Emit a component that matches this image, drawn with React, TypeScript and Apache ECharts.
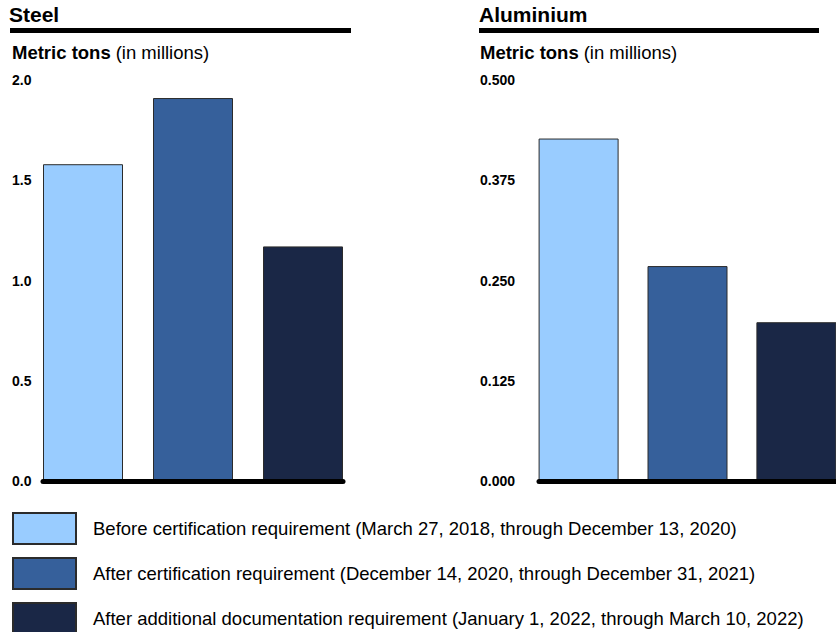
import React, { useEffect, useRef } from "react";
import * as echarts from "echarts";

const periods = [
  "Before certification requirement (March 27, 2018, through December 13, 2020)",
  "After certification requirement (December 14, 2020, through December 31, 2021)",
  "After additional documentation requirement (January 1, 2022, through March 10, 2022)",
];
const colors = ["#99ccff", "#36609b", "#1a2746"];
const steelValues = [1.58, 1.91, 1.17];
const aluminiumValues = [0.427, 0.268, 0.198];
const steelTicks = [0, 0.5, 1.0, 1.5, 2.0];
const aluminiumTicks = [0, 0.125, 0.25, 0.375, 0.5];

const FONT = "'Liberation Sans', Arial, sans-serif";

export default function App() {
  const ref = useRef<HTMLDivElement>(null);
  useEffect(() => {
    if (!ref.current) return;
    const chart = echarts.init(ref.current, null, { renderer: "svg" });
    const half = 40 / 110;
    const xAxisBase = (gridIndex: number) => ({
      type: "value",
      gridIndex,
      min: -half,
      max: 2 + half,
      z: 5,
      axisLine: { show: true, onZero: false, lineStyle: { color: "#000", width: 5 } },
      axisTick: { show: false },
      axisLabel: { show: false },
      splitLine: { show: false },
    });
    const yAxisBase = (gridIndex: number, ticks: number[], digits: number, margin: number) => ({
      type: "value",
      gridIndex,
      min: ticks[0],
      max: ticks[ticks.length - 1],
      interval: ticks[1] - ticks[0],
      axisLine: { show: false },
      axisTick: { show: false },
      splitLine: { show: false },
      axisLabel: {
        formatter: (v: number) => v.toFixed(digits),
        align: "left",
        margin,
        color: "#000",
        fontWeight: "bold",
        fontSize: 14,
        fontFamily: FONT,
      },
    });
    const makeSeries = (values: number[], axisIndex: number) =>
      values.map((v, i) => ({
        name: periods[i],
        type: "bar",
        xAxisIndex: axisIndex,
        yAxisIndex: axisIndex,
        barWidth: 80,
        barGap: "-100%",
        data: [[i, v]],
        itemStyle: { color: colors[i], borderColor: "#2b2b2b", borderWidth: 1 },
      }));
    const subtitle = {
      text: "{b|Metric tons} {n|(in millions)}",
      textStyle: {
        rich: {
          b: { fontSize: 18.5, fontWeight: "bold", color: "#000", fontFamily: FONT },
          n: { fontSize: 18.5, fontWeight: "normal", color: "#000", fontFamily: FONT },
        },
      },
    };
    chart.setOption({
      animation: false,
      textStyle: { fontFamily: FONT },
      title: [
        { text: "Steel", left: 9, top: 4, padding: 0, textStyle: { fontSize: 21, fontWeight: "bold", color: "#000", fontFamily: FONT } },
        { text: "Aluminium", left: 479, top: 4, padding: 0, textStyle: { fontSize: 21, fontWeight: "bold", color: "#000", fontFamily: FONT } },
        { ...subtitle, left: 12, top: 43, padding: 0 },
        { ...subtitle, left: 480, top: 43, padding: 0 },
      ],
      graphic: [
        { type: "rect", shape: { x: 10, y: 28, width: 341, height: 5 }, style: { fill: "#000" } },
        { type: "rect", shape: { x: 479, y: 28, width: 340, height: 5 }, style: { fill: "#000" } },
      ],
      legend: {
        orient: "vertical",
        left: 12,
        top: 512,
        height: 140,
        padding: 0,
        itemWidth: 63,
        itemHeight: 31,
        itemGap: 12,
        icon: "rect",
        data: periods,
        selectedMode: false,
        textStyle: { fontSize: 18.5, color: "#000", fontFamily: FONT, padding: [0, 0, 0, 12] },
      },
      grid: [
        { left: 43, top: 80, width: 300, height: 401 },
        { left: 539, top: 80, width: 300, height: 401 },
      ],
      xAxis: [xAxisBase(0), xAxisBase(1)],
      yAxis: [yAxisBase(0, steelTicks, 1, 31), yAxisBase(1, aluminiumTicks, 3, 59)],
      series: [...makeSeries(steelValues, 0), ...makeSeries(aluminiumValues, 1)],
    });
    return () => chart.dispose();
  }, []);
  return (
    <div
      ref={ref}
      style={{ position: "absolute", left: 0, top: 0, width: 836, height: 632, background: "#fff" }}
    />
  );
}
